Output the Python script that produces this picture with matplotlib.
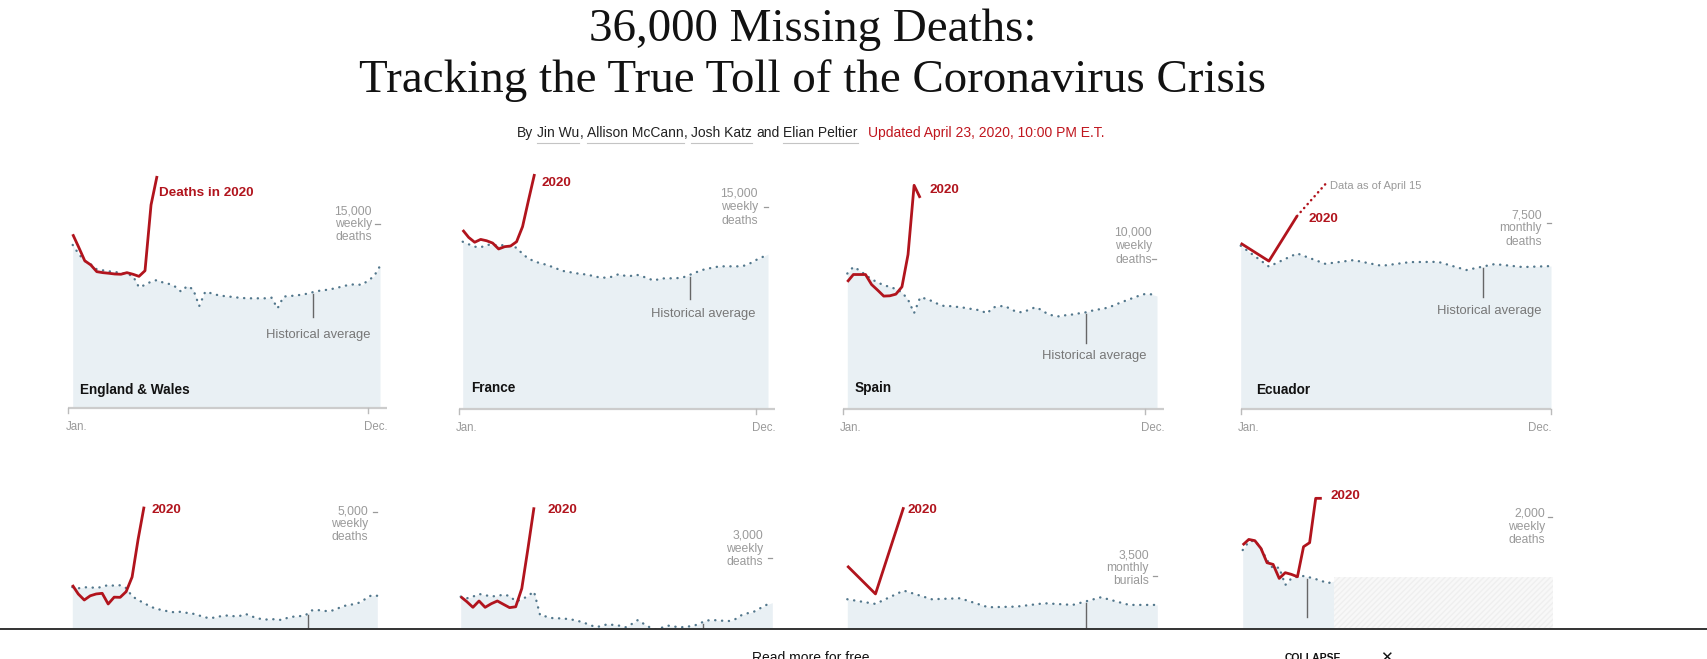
import numpy as np
import matplotlib
matplotlib.use("Agg")
import matplotlib.pyplot as plt
from matplotlib.lines import Line2D
from matplotlib.patches import Rectangle

# ------------------------------------------------------------------ data
title_1 = "36,000 Missing Deaths:"
title_2 = "Tracking the True Toll of the Coronavirus Crisis"
authors = ["Jin Wu", "Allison McCann", "Josh Katz", "Elian Peltier"]
updated = "Updated April 23, 2020, 10:00 PM E.T."
axis_start_label = "Jan."
axis_end_label = "Dec."

# England & Wales, weekly deaths
eng_hist = [13290, 12550, 11980, 11710, 11300, 11220, 11140, 11090, 11000, 10920,
            10760, 9840, 10030, 10300, 10430, 10220, 10110, 9890, 9480, 9940,
            9670, 8310, 9480, 9350, 9210, 9130, 9080, 9020, 8970, 8940,
            8940, 8940, 8940, 8990, 8120, 9080, 9130, 9160, 9240, 9320,
            9460, 9560, 9620, 9700, 9810, 9940, 10050, 10080, 10030, 10380,
            10730, 11570]
eng_2020 = [14160, 13100, 12000, 11660, 11110, 11030, 10980, 10920, 10900, 11030,
            10900, 10730, 11190, 16550, 18910]

# France, weekly deaths
fra_hist = [12430, 12240, 12060, 12010, 12190, 12210, 12140, 12190, 12060, 11990,
            11520, 11170, 10970, 10820, 10720, 10550, 10380, 10230, 10160, 10080,
            10030, 9960, 9860, 9760, 9760, 9830, 10010, 9910, 9880, 9980,
            9860, 9690, 9540, 9690, 9710, 9710, 9730, 9810, 9980, 10160,
            10330, 10430, 10530, 10600, 10600, 10600, 10600, 10650, 10820, 11070,
            11270, 11520]
fra_2020 = [13300, 12750, 12390, 12600, 12500, 12330, 11890, 12060, 12110, 12430,
            13550, 15530, 17460]

# Spain, weekly deaths
esp_hist = [9035, 9480, 9250, 8950, 8650, 8450, 8250, 8150, 8000, 7780,
            7300, 6400, 7450, 7350, 7190, 6990, 6860, 6860, 6815, 6770,
            6700, 6640, 6570, 6370, 6770, 6860, 6860, 6640, 6460, 6460,
            6640, 6790, 6600, 6330, 6220, 6170, 6260, 6300, 6370, 6420,
            6530, 6620, 6680, 6770, 6930, 7100, 7250, 7400, 7550, 7670,
            7650, 7540]
esp_2020 = [8480, 8970, 8970, 8970, 8300, 7925, 7530, 7550, 7660, 8150,
            10300, 14920, 14080]

# Ecuador, monthly deaths
ecu_hist = [6580, 5740, 6270, 5850, 6000, 5770, 5920, 5930, 5600, 5840, 5720, 5760]
ecu_2020 = [6680, 5960, 7780]
ecu_2020_partial = [7780, 9060]          # March -> April (data as of April 15)

# second row: weekly deaths / monthly burials
r2a_hist = [3360, 3333, 3355, 3355, 3340, 3365, 3406, 3390, 3400, 3340,
            3160, 3080, 3010, 2940, 2885, 2860, 2830, 2810, 2820, 2800,
            2785, 2750, 2705, 2680, 2700, 2730, 2740, 2725, 2730, 2773,
            2720, 2680, 2650, 2655, 2660, 2640, 2690, 2715, 2725, 2745,
            2850, 2860, 2840, 2835, 2865, 2933, 2965, 2985, 3020, 3100,
            3180, 3170]
r2a_2020 = [3406, 3209, 3078, 3170, 3210, 3224, 2991, 3140, 3136, 3260,
            3580, 4400, 5116]

r2b_hist = [2366, 2339, 2366, 2410, 2390, 2370, 2377, 2400, 2377, 2290,
            2320, 2377, 2450, 2060, 2040, 2015, 2011, 2005, 1994, 1973,
            1945, 1908, 1870, 1880, 1915, 1902, 1890, 1865, 1918, 1983,
            1918, 1860, 1830, 1860, 1890, 1875, 1863, 1874, 1885, 1918,
            1970, 1983, 1978, 1970, 1967, 2000, 2065, 2095, 2120, 2175,
            2229, 2268]
r2b_2020 = [2366, 2284, 2191, 2295, 2191, 2250, 2295, 2240, 2186, 2200,
            2500, 3150, 3830]

r2c_hist = [3005, 2906, 3189, 3005, 3026, 2835, 2849, 2920, 2885, 3047, 2885, 2885]
r2c_2020 = [3712, 3118, 4956]

r2d_hist = [1705, 1780, 1790, 1720, 1616, 1540, 1550, 1393, 1452, 1467,
            1473, 1461, 1446, 1429, 1408, 1429]
r2d_2020 = [1750, 1800, 1789, 1720, 1592, 1577, 1452, 1503, 1488, 1467,
            1735, 1771, 2167, 2167]
r2d_nodata_weeks = [15, 51]
r2d_nodata_level = 1465

# ------------------------------------------------------------------ style
W, H = 1708, 659
RED = "#b1141d"
FILL = "#e9f0f4"
DOT = "#52778c"
GRAY = "#9a9a9a"
HISTGRAY = "#777777"
AXISC = "#cccccc"
BLACK = "#121212"

plt.rcParams["font.family"] = ["Liberation Sans", "DejaVu Sans"]
fig = plt.figure(figsize=(W / 100, H / 100), dpi=100)
fig.patch.set_facecolor("white")


def fx(x):
    return x / W


def fy(y):
    return 1 - y / H


def ftext(x, y, s, **kw):
    kw.setdefault("va", "center")
    return fig.text(fx(x), fy(y), s, **kw)


# panel geometry (pixels): area left, area right, baseline, data units per px
panels = [
    dict(hist=eng_hist, y20=eng_2020, L=72.7, R=380.0, B=408.0, s=81.5, monthly=False,
         tick=15000, tick_lines=["15,000", "weekly", "deaths"],
         lab_r=372, lab_y=[211, 224, 237],
         name="England & Wales", name_xy=(80, 390),
         l20="Deaths in 2020", l20_xy=(159, 193),
         hist_lab=(371, 335), leader=(39.9, 317)),
    dict(hist=fra_hist, y20=fra_2020, L=462.7, R=768.0, B=409.0, s=74.3, monthly=False,
         tick=15000, tick_lines=["15,000", "weekly", "deaths"],
         lab_r=758, lab_y=[194, 207, 221],
         name="France", name_xy=(471, 388),
         l20="2020", l20_xy=(542, 183),
         hist_lab=(756, 314), leader=(38.0, 299)),
    dict(hist=esp_hist, y20=esp_2020, L=847.3, R=1157.0, B=409.0, s=66.7, monthly=False,
         tick=10000, tick_lines=["10,000", "weekly", "deaths"],
         lab_r=1152, lab_y=[232, 246, 260],
         name="Spain", name_xy=(855, 388),
         l20="2020", l20_xy=(930, 190),
         hist_lab=(1147, 356), leader=(39.3, 343)),
    dict(hist=ecu_hist, y20=ecu_2020, L=1240.7, R=1551.0, B=409.0, s=40.3, monthly=True,
         tick=7500, tick_lines=["7,500", "monthly", "deaths"],
         lab_r=1542, lab_y=[215, 228, 242],
         name="Ecuador", name_xy=(1256, 390),
         l20="2020", l20_xy=(1309, 219),
         hist_lab=(1542, 311), leader=(8.6, 297)),
    dict(hist=r2a_hist, y20=r2a_2020, L=72.3, R=377.3, B=741.0, s=21.83, monthly=False,
         tick=5000, tick_lines=["5,000", "weekly", "deaths"],
         lab_r=368, lab_y=[512, 524, 537],
         l20="2020", l20_xy=(152, 510), leader=(39.4, 640)),
    dict(hist=r2b_hist, y20=r2b_2020, L=460.7, R=772.3, B=741.0, s=16.39, monthly=False,
         tick=3000, tick_lines=["3,000", "weekly", "deaths"],
         lab_r=763, lab_y=[536, 549, 562],
         l20="2020", l20_xy=(547, 510), leader=(39.7, 640)),
    dict(hist=r2c_hist, y20=r2c_2020, L=847.3, R=1157.3, B=741.0, s=21.2, monthly=True,
         tick=3500, tick_lines=["3,500", "monthly", "burials"],
         lab_r=1149, lab_y=[555, 568, 581],
         l20="2020", l20_xy=(908, 510), leader=(8.47, 640)),
    dict(hist=r2d_hist, y20=r2d_2020, L=1242.7, R=1553.0, B=741.0, s=8.93, monthly=False,
         tick=2000, tick_lines=["2,000", "weekly", "deaths"],
         lab_r=1545, lab_y=[514, 527, 540],
         l20="2020", l20_xy=(1331, 496), leader=(10.6, 617)),
]

for i, p in enumerate(panels):
    n = 12 if p["monthly"] else 52
    top_px = p["B"] - 262
    ax = fig.add_axes([fx(p["L"]), fy(p["B"]), (p["R"] - p["L"]) / W, (p["B"] - top_px) / H])
    ax.set_xlim(0, n - 1)
    ax.set_ylim(0, (p["B"] - top_px) * p["s"])
    ax.axis("off")
    ax.patch.set_alpha(0)
    pxw = (p["R"] - p["L"]) / (n - 1)   # px per x unit

    xh = np.arange(len(p["hist"]))
    ax.fill_between(xh, p["hist"], 0, color=FILL, lw=0, zorder=1)
    ax.plot(xh, p["hist"], color=DOT, lw=1.7, ls=(0, (0.1, 2.8)),
            dash_capstyle="round", zorder=3, clip_on=False)

    if i == 7:
        xs = np.array(r2d_nodata_weeks, dtype=float)
        ax.fill_between(xs, [r2d_nodata_level] * 2, 0, facecolor="#f8f8f8",
                        edgecolor="#efefef", hatch="//////", lw=0, zorder=1)

    x20 = np.arange(len(p["y20"]))
    ax.plot(x20, p["y20"], color=RED, lw=2.0, zorder=5, clip_on=False,
            solid_joinstyle="round", solid_capstyle="butt")
    if i == 3:
        ax.plot([2, 3], ecu_2020_partial, color=RED, lw=1.8, ls=(0, (0.1, 2.0)),
                dash_capstyle="round", zorder=5, clip_on=False)
        ftext(1330, 186, "Data as of April 15", color=GRAY, fontsize=8.0, ha="left")

    # x axis line and ticks (only the top row is visible above the footer)
    if p["monthly"]:
        jan, dec, a0, a1 = 0.0, 11.0, 0.0, 11.0
    else:
        jan, dec, a0, a1 = -0.7, 49.0, -0.7, 52.1
    px_units = p["s"]
    ax.plot([a0, a1], [0, 0], color=AXISC, lw=1.6, zorder=4, clip_on=False,
            solid_capstyle="butt")
    for t in (jan, dec):
        ax.plot([t, t], [0, -5 * px_units], color="#bbbbbb", lw=1.0, zorder=4, clip_on=False)
    if i < 4:
        jan_px = p["L"] + jan * pxw
        end_px = p["L"] + a1 * pxw
        ftext(jan_px - 3, p["B"] + 19, axis_start_label, color=GRAY, fontsize=8.3, ha="left")
        ftext(end_px + 1, p["B"] + 19, axis_end_label, color=GRAY, fontsize=8.3, ha="right")

    # value tick label + little dash
    for line, yy in zip(p["tick_lines"], p["lab_y"]):
        ftext(p["lab_r"], yy, line, color=GRAY, fontsize=8.7, ha="right")
    ax.plot([n - 1 - 4.5 / pxw, n - 1 - 0.5 / pxw], [p["tick"], p["tick"]],
            color=GRAY, lw=0.9, zorder=4, clip_on=False)

    # historical average leader
    lx, lend = p["leader"]
    ly0 = np.interp(lx, xh, p["hist"]) - 2 * p["s"]
    ly1 = (p["B"] - lend) * p["s"]
    ax.plot([lx, lx], [ly0, ly1], color="#666666", lw=1.0, zorder=4, clip_on=False)
    if "hist_lab" in p:
        ftext(p["hist_lab"][0], p["hist_lab"][1], "Historical average",
              color=HISTGRAY, fontsize=9.4, ha="right")
    if "name" in p:
        ftext(p["name_xy"][0], p["name_xy"][1], p["name"], color=BLACK,
              fontsize=9.8, fontweight="bold", ha="left")
    ftext(p["l20_xy"][0], p["l20_xy"][1], p["l20"], color=RED, fontsize=9.7,
          fontweight="bold", ha="left")

# ------------------------------------------------------------------ header
ftext(812.5, 41, title_1, family=["Liberation Serif", "DejaVu Serif"], fontsize=33.8,
      color=BLACK, ha="center", va="baseline")
ftext(812.5, 92, title_2, family=["Liberation Serif", "DejaVu Serif"], fontsize=33.8,
      color=BLACK, ha="center", va="baseline")

renderer = fig.canvas.get_renderer()
BY_FS = 10.0


def width_of(s, **kw):
    t = fig.text(0, 0, s, fontsize=BY_FS, **kw)
    w = t.get_window_extent(renderer).width
    t.remove()
    return w


space_w = width_of("a a") - width_of("aa")
x = 517
yb = 133
seq = ["By", " ", authors[0], ",", " ", authors[1], ",", " ", authors[2], " ", "and", " ", authors[3]]
for s in seq:
    if s == " ":
        x += space_w
        continue
    t = ftext(x, yb, s, color="#222222", fontsize=BY_FS, ha="left")
    w = t.get_window_extent(renderer).width
    if s in authors:
        fig.add_artist(Line2D([fx(x), fx(x + w)], [fy(yb + 9.5)] * 2, color="#c4c4c4", lw=0.8))
    x += w
x += 10
ftext(x, yb, updated, color="#c0161e", fontsize=BY_FS, ha="left")

# ------------------------------------------------------------------ footer overlay
fig.add_artist(Rectangle((0, 0), 1, fy(628.5), transform=fig.transFigure,
                         facecolor="white", edgecolor="none", zorder=20))
fig.add_artist(Line2D([0, 1], [fy(628.5)] * 2, color="#333333", lw=1.4, zorder=21))
ftext(811, 651, "Read more for free", color=BLACK, fontsize=10, ha="center", va="top", zorder=22)
ftext(1313, 653, "COLLAPSE", color=BLACK, fontsize=7.5, fontweight="bold", ha="center",
      va="top", zorder=22)
ftext(1386, 650, "\u2715", color=BLACK, fontsize=11, ha="center", va="top", zorder=22,
      family=["DejaVu Sans"])

fig.savefig("out.png", dpi=100, facecolor="white")
